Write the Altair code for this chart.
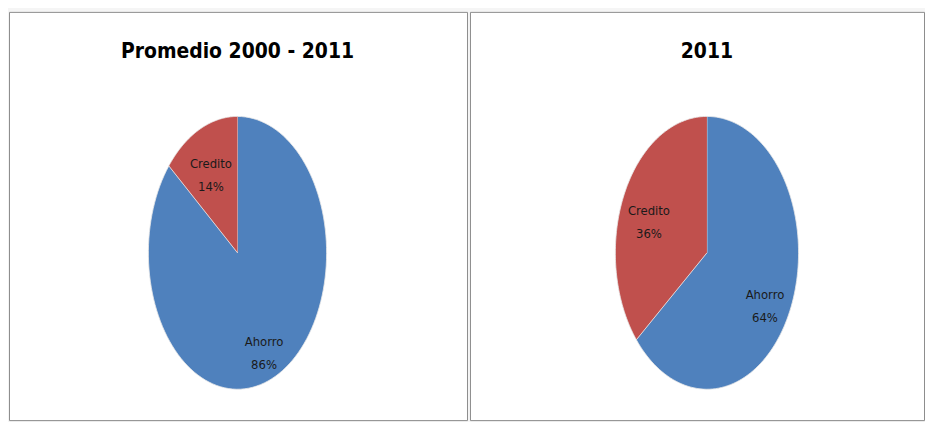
import altair as alt
import pandas as pd

categorias = ["Ahorro", "Credito"]
promedio_2000_2011 = [86, 14]
valores_2011 = [64, 36]
titulos = ["Promedio 2000 - 2011", "2011"]
colores = ["#4F81BD", "#C0504D"]

FUENTE = "DejaVu Sans Condensed, DejaVu Sans, sans-serif"
N = 120
pasos = list(range(-1, N + 1))


def panel(titulo, valores, width, height, cx, cy, rx, ry):
    df = pd.DataFrame({"categoria": categorias, "valor": valores, "orden": list(range(len(categorias)))})
    df["paso"] = [pasos] * len(df)
    xs = alt.Scale(domain=[-cx / rx, (width - cx) / rx])
    ys = alt.Scale(domain=[-(height - cy) / ry, cy / ry])
    base = (
        alt.Chart(df)
        .transform_joinaggregate(total="sum(valor)")
        .transform_window(acum="sum(valor)", sort=[alt.SortField("orden")], frame=[None, 0])
        .transform_calculate(
            ini="2*PI*(datum.acum - datum.valor)/datum.total",
            fin="2*PI*datum.acum/datum.total",
        )
    )
    pie = (
        base.transform_flatten(["paso"])
        .transform_calculate(
            ang=f"datum.ini + (datum.fin - datum.ini)*max(datum.paso, 0)/{N}",
        )
        .transform_calculate(
            px="datum.paso < 0 ? 0 : sin(datum.ang)",
            py="datum.paso < 0 ? 0 : cos(datum.ang)",
        )
        .mark_line(filled=True, stroke="#e8e8e8", strokeWidth=0.8, interpolate="linear")
        .encode(
            x=alt.X("px:Q", scale=xs, axis=None),
            y=alt.Y("py:Q", scale=ys, axis=None),
            color=alt.Color("categoria:N", scale=alt.Scale(domain=categorias, range=colores), legend=None),
            order=alt.Order("paso:Q"),
        )
    )
    etiquetas = (
        base.transform_calculate(
            mid="(datum.ini + datum.fin)/2",
        )
        .transform_calculate(
            lx="0.7*sin(datum.mid)",
            ly="0.72*cos(datum.mid)",
            etiqueta="datum.categoria + '\\n' + datum.valor + '%'",
        )
        .mark_text(lineBreak="\n", font=FUENTE, fontSize=13, color="#1a1a1a", lineHeight=23)
        .encode(
            x=alt.X("lx:Q", scale=xs, axis=None),
            y=alt.Y("ly:Q", scale=ys, axis=None),
            text="etiqueta:N",
        )
    )
    encabezado = (
        alt.Chart(pd.DataFrame({"titulo": [titulo]}))
        .mark_text(font=FUENTE, fontSize=21, fontWeight="bold", color="#000000", baseline="alphabetic")
        .encode(x=alt.value(cx), y=alt.value(46), text="titulo:N")
    )
    return alt.layer(pie, etiquetas, encabezado).properties(width=width, height=height)


izq = panel(titulos[0], promedio_2000_2011, 460, 410, 229.5, 242, 89.5, 137)
der = panel(titulos[1], valores_2011, 456, 410, 238, 242, 92, 137)

chart = (
    alt.hconcat(izq, der, spacing=1)
    .properties(padding={"top": 2, "left": 0, "right": 0, "bottom": 0}, background="#f5f5f5")
    .configure_view(stroke="#8c8c8c", strokeWidth=1, fill="white")
)

chart.save("out.html", embed_options={"renderer": "svg", "actions": False})
